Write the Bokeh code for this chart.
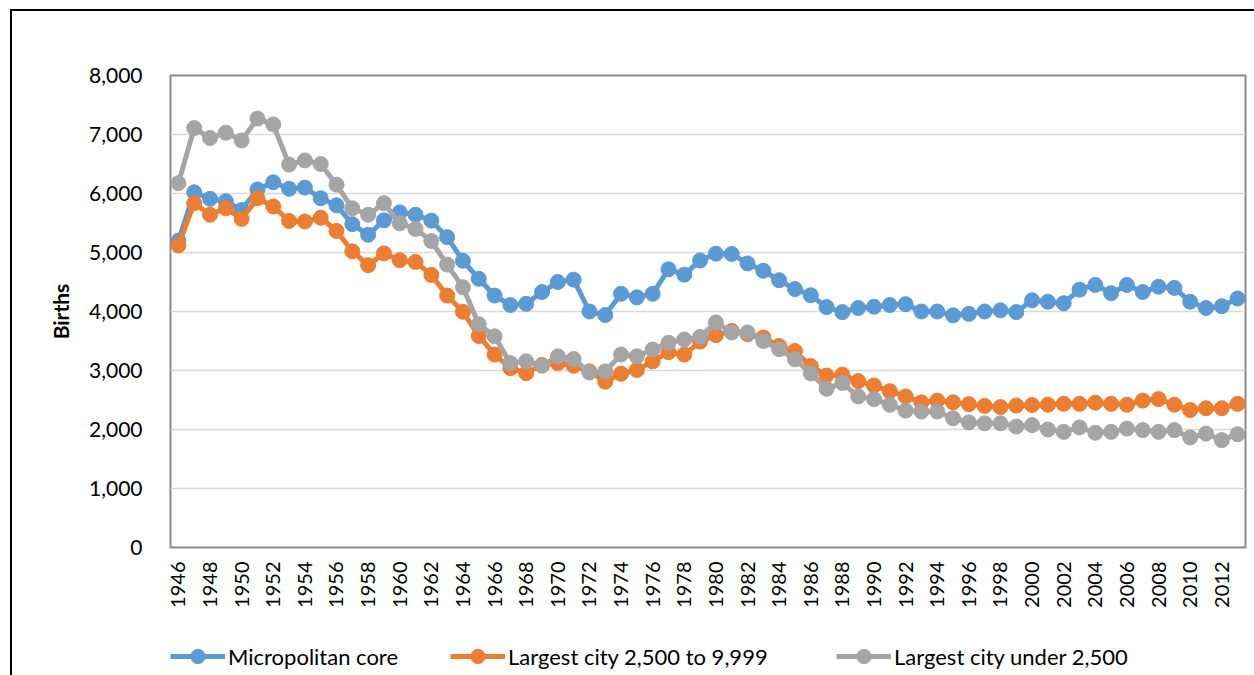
import math
from bokeh.plotting import figure
from bokeh.layouts import column
from bokeh.models import Range1d, FixedTicker, NumeralTickFormatter, Legend, LegendItem
from bokeh.embed import file_html
from bokeh.resources import INLINE

years = list(range(1946, 2014))

micropolitan_core = [
    5200, 6020, 5910, 5870, 5720, 6070, 6190, 6080, 6100, 5920,
    5800, 5480, 5300, 5545, 5680, 5640, 5540, 5260, 4860, 4555,
    4270, 4110, 4130, 4330, 4500, 4540, 4000, 3940, 4300, 4240,
    4300, 4715, 4625, 4865, 4980, 4975, 4815, 4690, 4530, 4380,
    4275, 4075, 3990, 4060, 4080, 4110, 4125, 4000, 4000, 3935,
    3960, 4000, 4020, 3990, 4190, 4165, 4140, 4370, 4450, 4310,
    4450, 4330, 4420, 4400, 4165, 4060, 4090, 4220,
]
city_2500_to_9999 = [
    5120, 5835, 5640, 5750, 5570, 5920, 5780, 5535, 5525, 5590,
    5365, 5020, 4785, 4985, 4870, 4840, 4620, 4270, 3995, 3585,
    3270, 3040, 2955, 3095, 3125, 3080, 2985, 2810, 2945, 3010,
    3155, 3310, 3270, 3490, 3600, 3670, 3615, 3560, 3415, 3330,
    3075, 2915, 2930, 2820, 2745, 2650, 2560, 2460, 2490, 2460,
    2430, 2400, 2380, 2405, 2415, 2420, 2435, 2435, 2455, 2435,
    2420, 2490, 2515, 2420, 2330, 2360, 2360, 2435,
]
city_under_2500 = [
    6175, 7110, 6940, 7030, 6900, 7270, 7170, 6490, 6560, 6500,
    6150, 5750, 5640, 5835, 5495, 5400, 5195, 4795, 4410, 3785,
    3580, 3125, 3155, 3080, 3240, 3195, 2965, 2985, 3270, 3240,
    3355, 3470, 3525, 3570, 3815, 3645, 3645, 3500, 3360, 3190,
    2950, 2690, 2790, 2560, 2515, 2420, 2320, 2305, 2305, 2190,
    2120, 2105, 2105, 2050, 2075, 2000, 1960, 2035, 1945, 1960,
    2015, 1990, 1960, 1990, 1865, 1930, 1820, 1920,
]

series_names = ["Micropolitan core", "Largest city 2,500 to 9,999", "Largest city under 2,500"]
series_colors = ["#5B9BD5", "#ED7D31", "#A5A5A5"]
y_ticks = [0, 1000, 2000, 3000, 4000, 5000, 6000, 7000, 8000]
x_tick_years = years[::2]
y_axis_title = "Births"

FONT = "Lato"
LINE_W = 5
MARKER_SIZE = 15

# ---------------- main chart ----------------
p = figure(
    width=1244, height=620,
    output_backend="svg", toolbar_location=None,
    x_range=Range1d(years[0] - 0.5, years[-1] + 0.5),
    y_range=Range1d(0, 8000),
    min_border_left=158, min_border_right=11,
    min_border_top=64, min_border_bottom=84,
)
p.styles = {"border-left": "2px solid black", "border-top": "2px solid black"}
p.background_fill_color = "white"
p.border_fill_color = "white"
p.outline_line_color = "#898989"
p.outline_line_width = 2

p.xgrid.grid_line_color = None
p.ygrid.grid_line_color = "#D9D9D9"
p.ygrid.grid_line_width = 1.5
p.ygrid.ticker = FixedTicker(ticks=y_ticks)

p.yaxis.ticker = FixedTicker(ticks=y_ticks)
p.yaxis.formatter = NumeralTickFormatter(format="0,0")
p.yaxis.axis_line_color = None
p.yaxis.major_tick_line_color = None
p.yaxis.minor_tick_line_color = None
p.yaxis.major_label_standoff = 22
p.yaxis.major_label_text_font = FONT
p.yaxis.major_label_text_font_size = "21px"
p.yaxis.major_label_text_color = "black"
p.yaxis.axis_label = y_axis_title
p.yaxis.axis_label_text_font = FONT
p.yaxis.axis_label_text_font_style = "bold"
p.yaxis.axis_label_text_font_size = "21px"
p.yaxis.axis_label_text_color = "black"
p.yaxis.axis_label_standoff = 13

p.xaxis.ticker = FixedTicker(ticks=x_tick_years)
p.xaxis.axis_line_color = None
p.xaxis.major_tick_line_color = None
p.xaxis.minor_tick_line_color = None
p.xaxis.major_label_orientation = math.pi / 2
p.xaxis.major_label_standoff = 8
p.xaxis.major_label_text_font = FONT
p.xaxis.major_label_text_font_size = "20px"
p.xaxis.major_label_text_color = "black"

all_series = [micropolitan_core, city_2500_to_9999, city_under_2500]
for color, vals in zip(series_colors, all_series):
    p.line(years, vals, line_color=color, line_width=LINE_W)
    p.scatter(years, vals, marker="circle", size=MARKER_SIZE, fill_color=color, line_color=color)

# ---------------- legend strip (series drawn off-range, only the legend shows) ----------------
q = figure(
    width=1244, height=46,
    output_backend="svg", toolbar_location=None,
    x_axis_location=None, y_axis_location=None,
    x_range=Range1d(years[0] - 0.5, years[-1] + 0.5), y_range=Range1d(-2, -1),
    min_border_left=0, min_border_right=0, min_border_top=0, min_border_bottom=0,
)
q.styles = {"border-left": "2px solid black"}
q.outline_line_color = None
q.xgrid.grid_line_color = None
q.ygrid.grid_line_color = None
q.background_fill_color = "white"
q.border_fill_color = "white"

legend_x = [0, 280, 666]
for name, color, vals, lx in zip(series_names, series_colors, all_series, legend_x):
    r1 = q.line(years, vals, line_color=color, line_width=LINE_W)
    r2 = q.scatter(years, vals, marker="circle", size=MARKER_SIZE, fill_color=color, line_color=color)
    lg = Legend(items=[LegendItem(label=name, renderers=[r1, r2])], location=(lx, 1),
                orientation="horizontal")
    lg.padding = 0
    lg.margin = 0
    lg.border_line_color = None
    lg.background_fill_alpha = 0
    lg.glyph_width = 55
    lg.glyph_height = 36
    lg.label_height = 20
    lg.label_standoff = 3
    lg.label_text_font = FONT
    lg.label_text_font_size = "22px"
    lg.label_text_color = "black"
    lg.label_text_baseline = "middle"
    q.add_layout(lg, "center")

layout = column(p, q, spacing=0)
layout.margin = (9, 0, 0, 10)

open("out.html", "w").write(file_html(layout, INLINE))
